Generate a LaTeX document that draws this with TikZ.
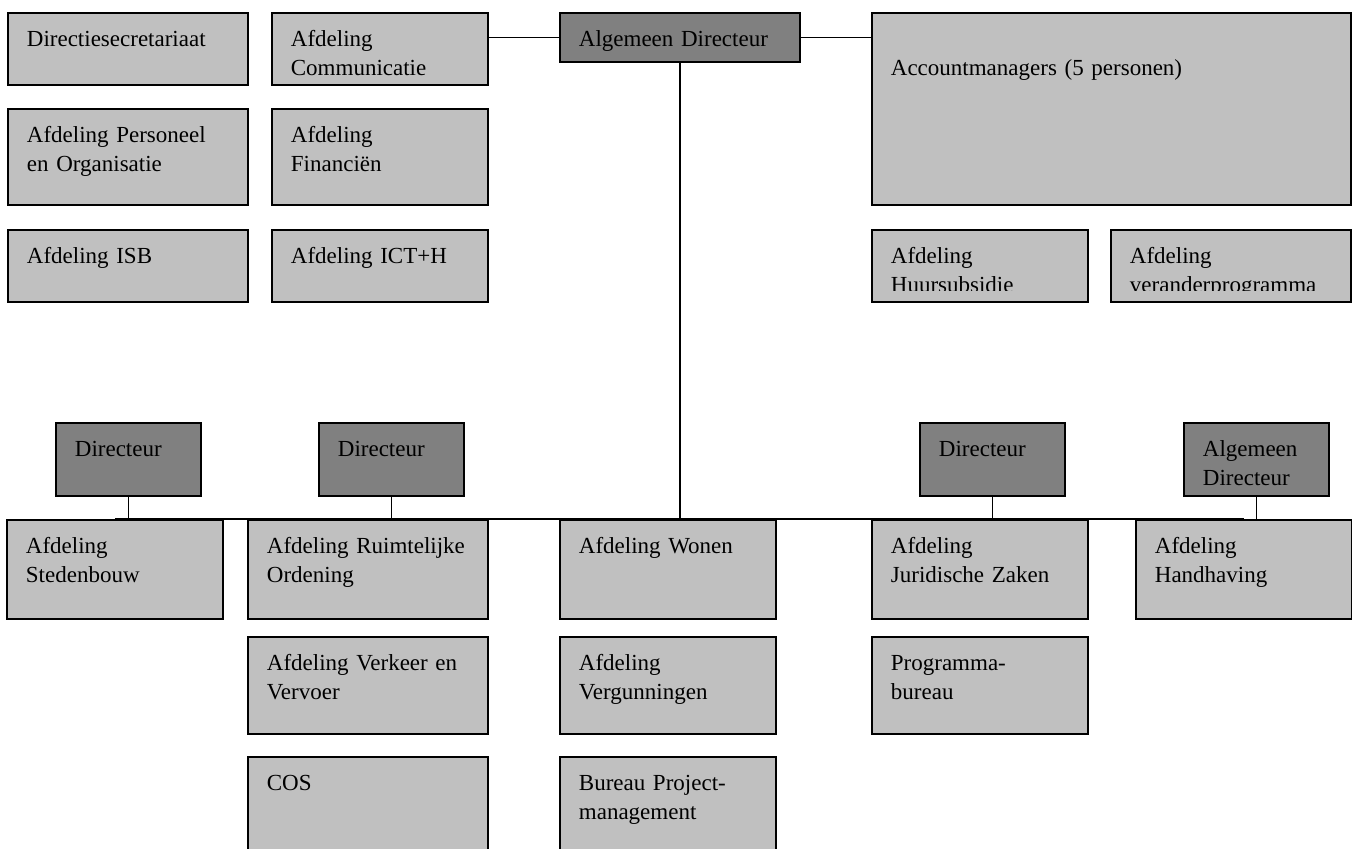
\documentclass[tikz,border=0pt]{standalone}
\usepackage{fontspec}
\setmainfont{Liberation Serif}
\definecolor{unitgray}{HTML}{C0C0C0}
\definecolor{headgray}{HTML}{808080}

\begin{document}
\begin{tikzpicture}[
  x=0.5pt, y=-0.5pt,
  unit/.style={draw=black, line width=0.9pt, fill=unitgray, anchor=north west, align=left,
               inner xsep=9.5pt, inner ysep=0pt, text height=17pt,
               font=\fontsize{11.5}{14.2}\selectfont},
  head/.style={unit, fill=headgray},
  wide/.style={text width=101pt},
  narrow/.style={text width=89pt},
  dirw/.style={text width=53.5pt},
  deep/.style={text depth=#1},
  bare/.style={draw=none, fill=none},
  link/.style={line width=0.8pt, draw=black},
]
\useasboundingbox (0,0) rectangle (1352,849);

% ---- staff units, top left ----
\node[unit, wide, deep=19pt]   (secr) at (7,12)   {Directiesecretariaat};
\node[unit, narrow, deep=19pt] (comm) at (271,12) {Afdeling\\Communicatie};
\node[unit, wide, deep=31pt]   (peo)  at (7,108)  {Afdeling Personeel\\en Organisatie};
\node[unit, narrow, deep=31pt] (fin)  at (271,108) {Afdeling\\Financiën};
\node[unit, wide, deep=19pt]   (isb)  at (7,229)  {Afdeling ISB};
\node[unit, narrow, deep=19pt] (ict)  at (271,229) {Afdeling ICT+H};

% ---- general director and account managers ----
\node[head, wide, deep=7.5pt] (algdir) at (559,12) {Algemeen Directeur};
\node[unit, text width=220.5pt, text height=31.5pt, deep=64.5pt] (acc) at (871,12)
      {Accountmanagers (5 personen)};
\node[unit, narrow, deep=19pt] (huur)   at (871,229)  {};
\node[unit, wide, deep=19pt]   (verand) at (1110,229) {};
\begin{scope}
  \clip (871,229) rectangle (1352,291);
  \node[unit, narrow, bare] (huurtxt)   at (huur.north west)   {Afdeling\\Huursubsidie};
  \node[unit, wide, bare]   (verandtxt) at (verand.north west) {Afdeling\\\mbox{veranderprogramma}};
\end{scope}

% ---- directors ----
\node[head, dirw, deep=19.5pt] (dirsb) at (55,422)   {Directeur};
\node[head, dirw, deep=19.5pt] (dirro) at (318,422)  {Directeur};
\node[head, dirw, deep=19.5pt] (dirjz) at (919,422)  {Directeur};
\node[head, dirw, deep=19.5pt] (dirhh) at (1183,422) {Algemeen\\Directeur};

% ---- line units ----
\node[unit, narrow, deep=32.5pt] (sted)  at (6,519)    {Afdeling\\Stedenbouw};
\node[unit, wide, deep=32.5pt]   (ro)    at (247,519)  {Afdeling Ruimtelijke\\Ordening};
\node[unit, narrow, deep=32.5pt] (wonen) at (559,519)  {Afdeling Wonen};
\node[unit, narrow, deep=32.5pt] (jz)    at (871,519)  {Afdeling\\Juridische Zaken};
\node[unit, narrow, deep=32.5pt] (hh)    at (1135,519) {Afdeling\\Handhaving};
\node[unit, wide, deep=31.5pt]   (vv)    at (247,636)  {Afdeling Verkeer en\\Vervoer};
\node[unit, narrow, deep=31.5pt] (verg)  at (559,636)  {Afdeling\\Vergunningen};
\node[unit, narrow, deep=31.5pt] (prog)  at (871,636)  {Programma-\\bureau};
\node[unit, wide, deep=31.5pt]   (cos)   at (247,756)  {COS};
\node[unit, narrow, deep=31.5pt] (bpm)   at (559,756)  {Bureau Project-\\management};

% ---- connectors ----
\draw[link] (algdir.west -| comm.east) -- (algdir.west);
\draw[link] (algdir.east) -- (algdir.east -| acc.west);
\draw[link] (algdir.south) -- (algdir.south |- wonen.north);
\draw[link] (sted.north) -- (hh.north);
\foreach \d in {dirsb,dirro,dirjz,dirhh}
  \draw[link] (\d.south) -- (\d.south |- sted.north);
\end{tikzpicture}
\end{document}
